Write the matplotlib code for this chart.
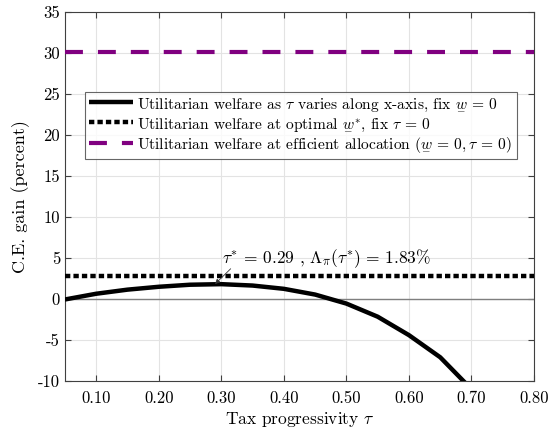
import matplotlib
matplotlib.use("Agg")
import matplotlib.pyplot as plt
import numpy as np

plt.rcParams['font.family'] = 'serif'
plt.rcParams['font.serif'] = ['cmr10']
plt.rcParams['mathtext.fontset'] = 'cm'
plt.rcParams['axes.unicode_minus'] = False
plt.rcParams['axes.formatter.use_mathtext'] = True

tau = [0.05, 0.10, 0.15, 0.20, 0.25, 0.30, 0.35, 0.40, 0.45, 0.50, 0.55, 0.60, 0.65, 0.70]
welfare_tau = [-0.05, 0.65, 1.15, 1.5, 1.75, 1.82, 1.65, 1.25, 0.55, -0.55, -2.15, -4.4, -7.1, -11.0]
welfare_wstar = 2.8
welfare_eff = 30.1
tau_star = 0.29
lam_star = 1.83

xticks = [0.10, 0.20, 0.30, 0.40, 0.50, 0.60, 0.70, 0.80]
yticks = [-10, -5, 0, 5, 10, 15, 20, 25, 30, 35]

W = r'\underset{-}{w}'

fig = plt.figure(figsize=(5.5, 4.34), dpi=100)
ax = fig.add_axes([0.118, 0.122, 0.853, 0.850])

ax.axhline(0, color='#7f7f7f', lw=1.0, zorder=1)
l1, = ax.plot(tau, welfare_tau, color='black', lw=3.2, solid_capstyle='butt',
              label=r'Utilitarian welfare as $\tau$ varies along x-axis, fix $%s\,=\,0$' % W, zorder=3)
l2 = ax.axhline(welfare_wstar, color='black', lw=3.2, linestyle=(0, (1.2, 0.7)),
                label=r'Utilitarian welfare at optimal $%s^{*}$, fix $\tau\,=\,0$' % W, zorder=3)
l3 = ax.axhline(welfare_eff, color='#800080', lw=3.0, linestyle=(0, (4.3, 3.6)),
                label=r'Utilitarian welfare at efficient allocation ($%s\,=\,0,\tau\,=\,0$)' % W, zorder=3)

ax.annotate('', xy=(tau_star, lam_star), xytext=(0.315, 3.7),
            arrowprops=dict(arrowstyle='-|>', color='#333333', lw=0.6, mutation_scale=7,
                            shrinkA=0, shrinkB=0), zorder=4)
ax.text(0.301, 4.95, r'$\tau^{*}\,=\,%.2f$ , $\Lambda_{\pi}(\tau^{*})\,=\,%.2f\%%$' % (tau_star, lam_star),
        fontsize=12.5, ha='left', va='center', zorder=4)

ax.set_xlim(0.05, 0.80)
ax.set_ylim(-10, 35)
ax.set_xticks(xticks)
ax.set_xticklabels(['%.2f' % t for t in xticks])
ax.set_yticks(yticks)
ax.set_yticklabels([str(t) for t in yticks])
ax.tick_params(direction='in', top=True, right=True, labelsize=12, length=4,
               color='#404040', width=0.8)
ax.tick_params(axis='x', pad=7)
ax.grid(True, color='#e3e3e3', lw=0.8, zorder=0)
ax.set_axisbelow(True)
for s in ax.spines.values():
    s.set_color('#404040')
    s.set_linewidth(0.8)

ax.set_xlabel(r'Tax progressivity $\tau$', fontsize=12.5, labelpad=3)
ax.set_ylabel('C.E. gain (percent)', fontsize=13, labelpad=6)

leg = ax.legend(handles=[l1, l2, l3], loc='upper left', bbox_to_anchor=(0.042, 0.783),
                fontsize=11.2, frameon=True, fancybox=False, edgecolor='#404040',
                handlelength=2.8, handletextpad=0.3, borderpad=0.3, labelspacing=0.2,
                borderaxespad=0)
leg.get_frame().set_linewidth(0.8)

fig.savefig('out.png', dpi=100)
